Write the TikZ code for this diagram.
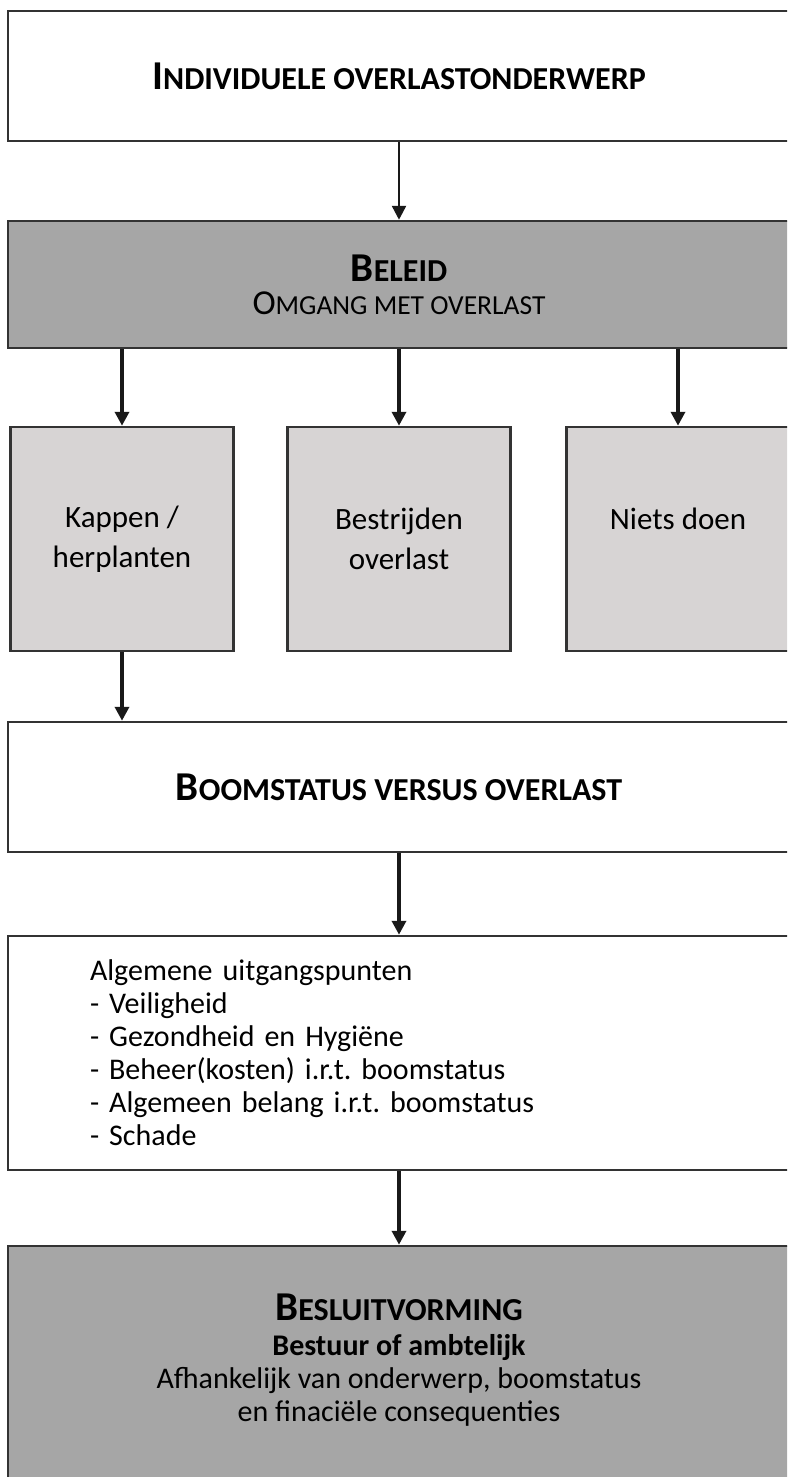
\documentclass[tikz,border=0pt]{standalone}
\usepackage{fontspec}
\setmainfont{Carlito}
\usetikzlibrary{positioning,arrows.meta}
\definecolor{donker}{HTML}{A6A6A6}
\definecolor{licht}{HTML}{D7D4D4}
\frenchspacing
\newcommand{\kop}[2]{{\bfseries\fontsize{41}{44}\selectfont #1\fontsize{32}{44}\selectfont #2}}
\newcommand{\subkop}[2]{{\fontsize{35}{40}\selectfont #1\fontsize{27.5}{40}\selectfont #2}}
\tikzset{
	blok/.style={draw=black!80, line width=2.5pt, rectangle, fill=white, minimum width=782pt, font=\fontsize{30}{33}\selectfont},
	keuze/.style={blok, fill=licht, minimum width=223pt, minimum height=224pt, align=center, font=\fontsize{31}{40}\selectfont},
	pijl/.style={-{Triangle[width=14pt,length=14pt]}, line width=4pt, black!90},
}
\begin{document}
\begin{tikzpicture}[x=1pt, y=-1pt]
	\useasboundingbox (0,0) rectangle (787,1477);
	\clip (0,0) rectangle (787,1477);
	\node [blok, minimum height=130pt] (onderwerp) at (399,76) {\kop{I}{NDIVIDUELE OVERLASTONDERWERP}};
	\node [blok, fill=donker, minimum height=127pt, align=center] (beleid) at (399,284.5) {\kop{B}{ELEID}\\\subkop{O}{MGANG MET OVERLAST}};
	\node [keuze] (kappen) at (122,539) {Kappen /\\herplanten};
	\node [keuze] (bestrijden) at (399,539) {Bestrijden\\overlast};
	\node [keuze] (niets) at (678,539) {Niets doen\\\mbox{}};
	\node [blok, minimum height=130pt] (boomstatus) at (399,787) {\kop{B}{OOMSTATUS VERSUS OVERLAST}};
	\node [blok, minimum height=234pt, align=left, text width=618pt, inner xsep=82pt] (uitgangspunten) at (399,1053) {Algemene uitgangspunten\\- Veiligheid\\- Gezondheid en Hygiëne\\- Beheer(kosten) i.r.t. boomstatus\\- Algemeen belang i.r.t. boomstatus\\- Schade};
	\node [blok, fill=donker, minimum height=270pt] (besluit) at (399,1381) {};
	\node [align=center, font=\fontsize{30}{33}\selectfont, below=46pt of besluit.north] (besluittekst) {\kop{B}{ESLUITVORMING}\\[2pt]{\bfseries Bestuur of ambtelijk}\\Afhankelijk van onderwerp, boomstatus\\en finaciële consequenties};
	\draw [pijl, line width=2.5pt] (onderwerp) -- (beleid);
	\foreach \k in {kappen,bestrijden,niets}
		\draw [pijl] (beleid.south -| \k.north) -- (\k.north);
	\draw [pijl] (kappen.south) -- (kappen.south |- boomstatus.north);
	\draw [pijl] (boomstatus) -- (uitgangspunten);
	\draw [pijl] (uitgangspunten) -- (besluit);
\end{tikzpicture}
\end{document}
